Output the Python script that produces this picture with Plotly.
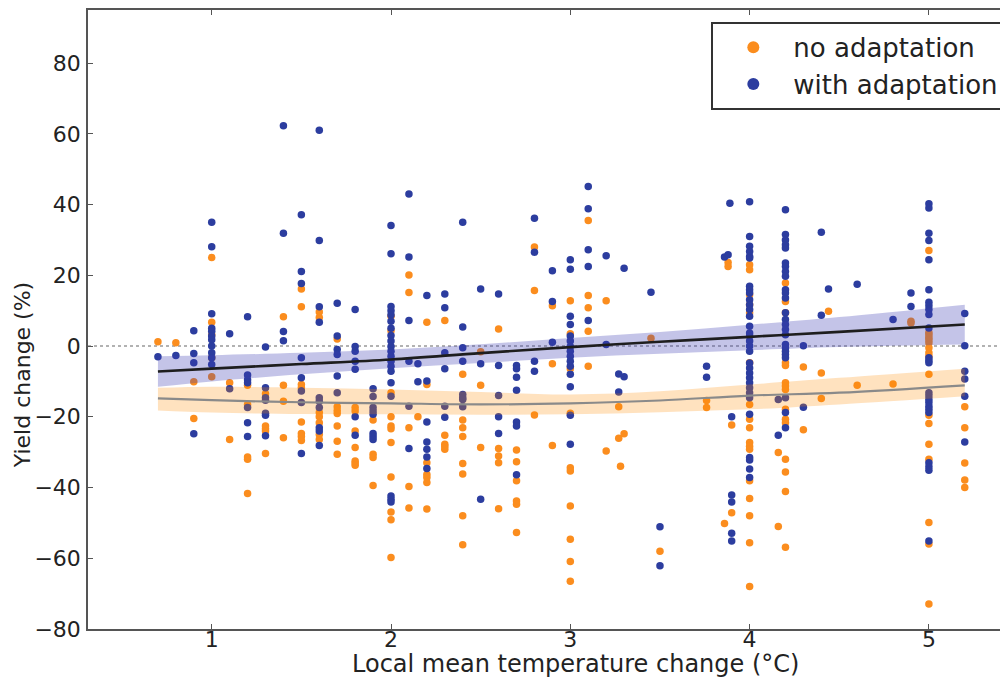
import plotly.graph_objects as go

# local temperature change (x groups) and yield changes (%)
noadapt_temp = [0.7, 0.8, 0.9, 1.0, 1.1, 1.2, 1.3, 1.4, 1.5, 1.6, 1.7, 1.8, 1.9, 2.0,
                2.1, 2.15, 2.2, 2.3, 2.4, 2.5, 2.6, 2.7, 2.8, 2.9, 3.0, 3.1, 3.2, 3.27,
                3.28, 3.3, 3.45, 3.5, 3.76, 3.86, 3.88, 3.9, 4.0, 4.16, 4.2, 4.3, 4.4,
                4.44, 4.6, 4.8, 4.9, 5.0, 5.2]
noadapt_yield = [
    [1.2], [0.9], [-10.1, -20.5], [25.0, 6.7, 3.2, -3.3, -8.7], [-10.4, -26.4],
    [-11.1, -16.5, -31.4, -32.0, -41.7], [-13.5, -22.6, -23.4, -24.0, -30.4],
    [8.3, -11.1, -15.6, -25.9], [16.1, 11.1, -10.9, -11.8, -21.5, -24.7, -25.6, -26.7],
    [9.6, 8.1, -18.8, -20.0, -21.7, -25.0, -26.4],
    [2.0, -17.2, -18.2, -19.1, -22.6, -26.9, -30.6],
    [-17.4, -18.4, -24.0, -28.7, -32.5, -33.1, -33.7],
    [-20.9, -30.6, -31.5, -39.4],
    [8.4, 4.3, -13.2, -20.0, -22.6, -23.4, -27.3, -37.0, -46.9, -49.1, -59.8],
    [20.1, 15.1, -23.1, -39.7, -45.8], [-20.0],
    [6.7, -10.9, -33.0, -36.3, -37.2, -38.6, -46.1],
    [7.2, -25.2, -27.8, -28.4, -29.2],
    [-8.0, -20.9, -23.1, -25.6, -33.2, -36.2, -48.0, -56.2],
    [-1.6, -11.1, -28.7], [4.8, -29.0, -31.1, -33.0, -46.0],
    [-29.4, -32.7, -38.1, -43.8, -44.7, -52.7], [28.0, 15.7, -19.5], [11.4, -5.0, -28.1],
    [12.8, 3.5, -6.4, -19.0, -34.4, -35.3, -45.2, -54.6, -60.9, -66.5],
    [35.5, 14.3, 10.8, 4.2, -5.7], [12.8, -29.7], [-17.2, -26.1], [-34.0], [-24.8],
    [2.2], [-58.0], [-15.4, -17.4], [-50.2], [23.6, 22.5], [-22.3, -47.1],
    [23.0, 21.6, 14.5, 11.7, 9.4, -4.7, -16.5, -20.7, -23.1, -27.3, -28.3, -29.2,
     -38.1, -43.1, -48.0, -55.6, -68.0],
    [-30.1, -51.0],
    [17.8, 12.6, 9.4, -4.7, -5.5, -10.4, -11.3, -12.3, -17.9, -20.7, -21.7, -32.0,
     -35.6, -41.1, -56.9],
    [-5.9, -23.7], [-7.6, -14.8], [9.8], [-11.1], [-10.7], [7.0, 6.5],
    [27.0, 3.8, 3.2, 2.4, 1.8, 0.9, -0.5, -1.9, -2.9, -8.0, -19.6, -21.9, -27.8, -32.0,
     -49.9, -56.0, -72.9],
    [-17.2, -23.1, -33.1, -37.9, -40.0],
]

adapt_temp = [0.7, 0.8, 0.9, 1.0, 1.1, 1.2, 1.3, 1.4, 1.5, 1.6, 1.7, 1.8, 1.9, 2.0,
              2.1, 2.15, 2.2, 2.3, 2.4, 2.5, 2.6, 2.7, 2.8, 2.9, 3.0, 3.1, 3.2, 3.27,
              3.3, 3.45, 3.5, 3.76, 3.86, 3.88, 3.89, 3.9, 4.0, 4.16, 4.2, 4.3, 4.4,
              4.44, 4.6, 4.8, 4.9, 5.0, 5.2]
adapt_yield = [
    [-3.0], [-2.7], [4.3, -2.1, -4.7, -24.8],
    [35.0, 28.1, 9.1, 5.0, 4.2, 2.8, 1.8, 0.0, -1.9, -3.3, -5.2], [3.5, -12.1],
    [8.3, -8.2, -9.5, -10.4, -17.4, -21.7, -25.6],
    [-0.3, -11.8, -14.6, -15.3, -19.0, -19.6, -25.4], [62.3, 31.9, 4.1, 1.5],
    [37.1, 21.1, 17.7, -3.3, -9.0, -12.7, -16.0, -30.4],
    [61.0, 29.8, 11.1, 6.7, -14.6, -15.6, -17.4, -23.1, -24.0, -28.1],
    [12.1, 2.8, -1.0, -2.4, -8.5, -13.2],
    [10.3, -0.1, -1.5, -4.3, -6.6, -20.0, -25.2],
    [-12.1, -14.3, -17.4, -18.4, -19.3, -24.7, -25.6, -26.4],
    [34.1, 26.1, 11.2, 10.0, 8.8, 7.0, 5.0, 3.0, 1.4, -0.1, -1.5, -2.9, -4.3, -5.7,
     -7.1, -10.4, -14.2, -42.4, -43.3, -44.1],
    [43.0, 25.2, 7.2, -4.3, -17.0, -29.0], [-5.0, -10.1],
    [14.3, -9.9, -21.5, -27.1, -29.2, -31.4, -34.6],
    [14.7, 10.8, -1.9, -6.4, -17.0, -20.1],
    [35.0, 5.4, -0.5, -4.3, -13.7, -14.6, -15.1, -17.2], [16.1, -5.0, -43.3],
    [14.7, -5.5, -14.0, -20.0, -24.7], [-5.5, -6.4, -8.8, -12.5, -21.5, -22.6, -36.4],
    [36.1, 26.5, -4.3, -7.1], [21.3, 12.6, 1.1],
    [24.4, 21.7, 8.4, 6.1, 2.8, 1.4, -0.1, -1.5, -2.9, -4.3, -5.7, -8.0, -11.5, -19.6,
     -27.8],
    [45.1, 38.8, 27.2, 22.5, 7.2], [25.5, 0.4], [-7.9, -13.0], [22.0, -8.7], [15.2],
    [-51.1, -62.1], [-5.7, -8.8], [25.2], [25.8], [40.4], [-20.0, -42.1, -44.1, -52.9, -55.1],
    [40.8, 31.0, 28.2, 26.7, 25.3, 24.9, 16.9, 15.9, 15.0, 13.1, 11.7, 10.3, 8.4, 5.6,
     3.7, 2.8, 1.4, 0.0, -1.5, -4.8, -6.2, -7.6, -9.0, -10.4, -11.8, -13.2, -14.6,
     -19.3, -31.5, -32.2, -34.8, -37.2],
    [-15.1, -25.2],
    [38.5, 31.5, 30.0, 28.6, 27.7, 23.5, 22.5, 21.1, 19.7, 15.9, 15.0, 13.6, 9.4, 7.5,
     6.1, 4.7, 3.2, 0.4, -0.5, -1.5, -2.4, -3.3, -14.6, -18.8, -23.1],
    [0.1, -17.3], [32.2, 8.7], [16.1], [17.5], [7.5], [15.0, 11.2],
    [40.2, 39.0, 31.9, 29.8, 24.4, 15.9, 12.4, 11.4, 10.3, 8.9, 5.1, -3.3, -4.1, -4.7,
     -13.2, -14.1, -15.1, -16.0, -17.0, -17.9, -18.8, -33.0, -34.1, -35.1, -55.1],
    [9.2, 0.1, -7.1, -9.3, -14.2, -27.1],
]

# fitted trends and confidence bands
fit_temp = [0.7, 1.0, 1.5, 2.0, 2.5, 3.0, 3.5, 4.0, 4.5, 5.2]
noadapt_fit = [-14.8, -15.3, -15.9, -16.2, -16.5, -16.2, -15.4, -14.0, -13.2, -11.1]
noadapt_lo = [-18.2, -18.8, -19.2, -19.3, -19.4, -19.3, -18.7, -17.9, -16.5, -14.2]
noadapt_hi = [-11.8, -11.5, -11.8, -12.3, -13.0, -13.7, -12.8, -10.9, -9.0, -6.4]
adapt_fit = [-7.2, -6.4, -5.1, -3.8, -2.0, -0.3, 1.2, 2.6, 4.0, 6.1]
adapt_lo = [-11.5, -10.0, -8.0, -6.3, -4.8, -3.3, -2.2, -1.2, -0.3, 0.4]
adapt_hi = [-2.9, -2.6, -1.9, -1.0, 0.5, 2.3, 4.0, 6.0, 8.2, 11.7]

ORANGE = "#fb8d1e"
BLUE = "#2c3d9f"
FONT = "DejaVu Sans"


def expand(temps, yields):
    xs, ys = [], []
    for t, vals in zip(temps, yields):
        for v in vals:
            xs.append(t)
            ys.append(v)
    return xs, ys


fig = go.Figure()

nx, ny = expand(noadapt_temp, noadapt_yield)
ax, ay = expand(adapt_temp, adapt_yield)

fig.add_trace(go.Scatter(x=nx, y=ny, mode="markers", name="no adaptation",
                         marker=dict(color=ORANGE, size=7.5)))
fig.add_trace(go.Scatter(x=ax, y=ay, mode="markers", name="with adaptation",
                         marker=dict(color=BLUE, size=7.5)))

# bands sit over the points (semi transparent), like the original
for lo, hi, col in [(noadapt_lo, noadapt_hi, "rgba(255,140,0,0.25)"),
                    (adapt_lo, adapt_hi, "rgba(60,60,180,0.3)")]:
    fig.add_trace(go.Scatter(x=fit_temp, y=lo, mode="lines", line=dict(width=0, shape="spline"),
                             showlegend=False, hoverinfo="skip"))
    fig.add_trace(go.Scatter(x=fit_temp, y=hi, mode="lines", line=dict(width=0, shape="spline"),
                             fill="tonexty", fillcolor=col, showlegend=False, hoverinfo="skip"))

fig.add_trace(go.Scatter(x=fit_temp, y=noadapt_fit, mode="lines", showlegend=False,
                         line=dict(color="#8a8a8a", width=2.2, shape="spline")))
fig.add_trace(go.Scatter(x=fit_temp, y=adapt_fit, mode="lines", showlegend=False,
                         line=dict(color="#1e1e1e", width=2.6, shape="spline")))

# dotted zero line
fig.add_shape(type="line", xref="paper", x0=0, x1=1, y0=0, y1=0,
              line=dict(color="#999999", width=1.5, dash="dot"), layer="below")

axis_style = dict(showline=True, linecolor="#555555", linewidth=1.5, mirror="ticks",
                  ticks="inside", ticklen=5, tickcolor="#555555", showgrid=False,
                  zeroline=False, tickfont=dict(family=FONT, size=22, color="#222222"))

fig.update_xaxes(range=[0.31, 5.43], tickvals=[1, 2, 3, 4, 5], ticklabelstandoff=-10,
                 **axis_style)
fig.update_yaxes(range=[-80, 95], tick0=-80, dtick=20, ticklabelstandoff=1, **axis_style)

fig.add_annotation(text="Local mean temperature change (°C)", xref="paper", yref="paper",
                   x=0.5315, y=0, yshift=-35, showarrow=False, yanchor="middle",
                   font=dict(family=FONT, size=24, color="#222222"))
fig.add_annotation(text="Yield change (%)", xref="paper", yref="paper", textangle=-90,
                   x=0, xshift=-66, y=0.41, showarrow=False, xanchor="center",
                   font=dict(family=FONT, size=22, color="#222222"))

# page body has an 8px margin, so the figure is drawn 8px smaller and offset
fig.update_layout(
    width=1000, height=670,
    margin=dict(l=80, r=0, t=2, b=49),
    plot_bgcolor="white", paper_bgcolor="white",
    font=dict(family=FONT),
    legend=dict(x=0.679, y=0.981, xanchor="left", yanchor="top",
                traceorder="normal", itemwidth=70,
                bgcolor="white", bordercolor="#333333", borderwidth=2,
                font=dict(family=FONT, size=26, color="#222222"),
                itemsizing="constant"),
)

fig.write_html("out.html")
